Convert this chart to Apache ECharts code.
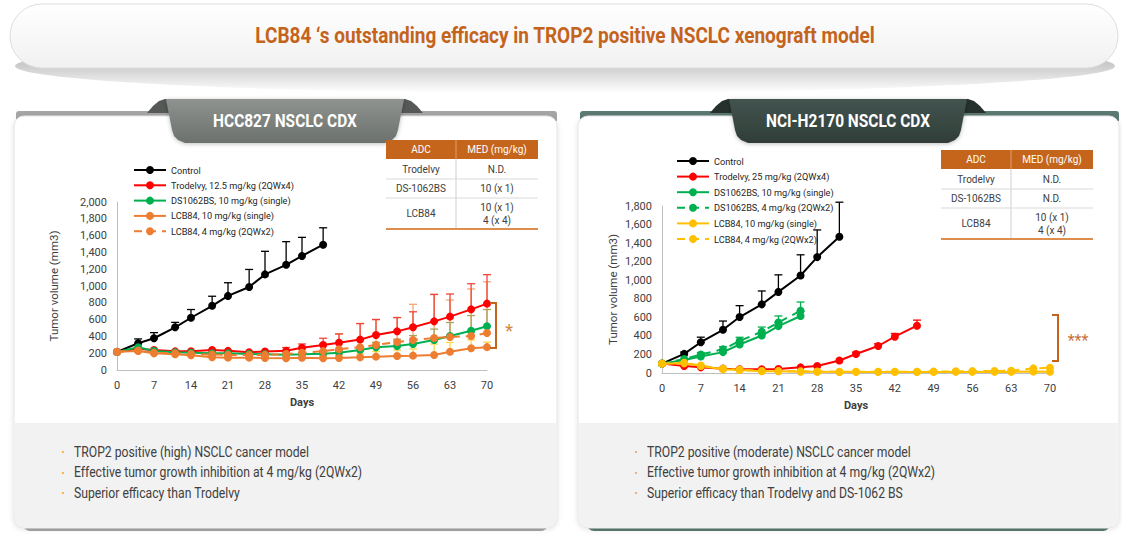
<!DOCTYPE html>
<html><head><meta charset="utf-8">
<script src="https://cdn.jsdelivr.net/npm/echarts@6/dist/echarts.min.js"></script>
<style>html,body{margin:0;padding:0;background:#fff;}#c{width:1122px;height:541px;}</style>
</head><body><div id="c"></div>
<script>
// ---------- DATA ----------
const daysL = [0,4,7,11,14,18,21,25,28,32,35,39,42,46,49,53,56,60,63,67,70];
const ctrlL = [215,319,378,508,622,764,882,988,1138,1252,1358,1492];
const ctrlLErr = [0,51,67,59,98,114,157,209,275,276,221,201];
const trodL = [215,250,238,222,224,238,228,212,220,228,265,298,325,362,417,460,508,579,635,722,790];
const trodLErr = [0,12,12,12,12,12,12,12,15,40,45,80,105,190,185,165,185,320,270,305,345];
const dsL = [215,270,226,210,206,198,198,190,187,183,187,194,206,238,270,286,310,357,405,468,520];
const dsLErr = [0,12,10,10,10,10,10,10,10,12,15,20,25,40,60,80,100,130,160,180,200];
const lcb10L = [218,226,198,187,175,151,147,147,143,139,145,139,143,151,159,167,171,179,218,258,272];
const lcb10LErr = [0,10,10,10,10,10,10,10,10,10,15,20,25,40,60,70,80,130,110,100,60];
const lcb4L = [218,232,205,200,190,185,180,178,180,190,205,225,248,270,298,333,357,381,393,405,440];
const lcb4LErr = [0,15,15,15,15,20,20,25,30,40,45,90,180,285,300,290,425,520,440,560,610];

const daysR = [0,4,7,11,14,18,21,25,28,32,35,39,42,46,49,53,56,60,63,67,70];
const ctrlR = [101,206,332,466,603,740,874,1051,1249,1469];
const ctrlRErr = [0,20,54,94,123,144,184,223,293,372];
const trodR = [101,75,61,47,40,40,43,61,75,135,205,291,391,510];
const trodRErr = [0,5,5,5,5,5,5,8,10,15,20,25,35,60];
const ds10R = [101,140,178,225,307,404,505,614];
const ds10RErr = [0,10,15,20,25,30,40,50];
const ds4R = [101,150,200,255,345,445,545,670];
const ds4RErr = [0,15,20,30,40,50,70,95];
const lcb10R = [101,104,75,40,32,18,18,14,14,11,12,12,12,12,12,12,12,12,12,15,14];
const lcb4R = [101,110,80,45,35,22,20,18,16,14,14,14,14,14,16,18,20,22,25,50,57];
const lcbRErr = [0,5,5,5,5,4,4,4,4,4,4,4,4,4,4,4,5,5,6,8,10];

const yTicksL = {min:0, max:2000, interval:200};
const yTicksR = {min:0, max:1800, interval:200};
const xTicks = {min:0, max:70, interval:7};

const namesL = ['Control','Trodelvy, 12.5 mg/kg (2QWx4)','DS1062BS, 10 mg/kg (single)','LCB84, 10 mg/kg (single)','LCB84, 4 mg/kg (2QWx2)'];
const namesR = ['Control','Trodelvy, 25 mg/kg (2QWx4)','DS1062BS, 10 mg/kg (single)','DS1062BS, 4 mg/kg (2QWx2)','LCB84, 10 mg/kg (single)','LCB84, 4 mg/kg (2QWx2)'];

const tableHead = ['ADC','MED (mg/kg)'];
const tableL = [['Trodelvy','N.D.'],['DS-1062BS','10 (x 1)'],['LCB84','10 (x 1)\n4 (x 4)']];
const tableR = [['Trodelvy','N.D.'],['DS-1062BS','N.D.'],['LCB84','10 (x 1)\n4 (x 4)']];

const title = "LCB84 \u2018s outstanding efficacy in TROP2 positive NSCLC xenograft model";
const tabL = 'HCC827 NSCLC CDX';
const tabR = 'NCI-H2170 NSCLC CDX';
const bulletsL = ['TROP2 positive (high) NSCLC cancer model','Effective tumor growth inhibition at 4 mg/kg (2QWx2)','Superior efficacy than Trodelvy'];
const bulletsR = ['TROP2 positive (moderate) NSCLC cancer model','Effective tumor growth inhibition at 4 mg/kg (2QWx2)','Superior efficacy than Trodelvy and DS-1062 BS'];

// ---------- BUILD ----------
const ROBO = 'Roboto, "Noto Sans", sans-serif';
const pair = (d, v) => v.map((y, i) => [d[i], y]);

function line(name, gi, days, vals, color, dashed) {
  return {name, type:'line', xAxisIndex:gi, yAxisIndex:gi, data:pair(days, vals),
    symbol:'circle', symbolSize:8, showSymbol:true, animation:false, silent:true, z:3,
    itemStyle:{color}, lineStyle:{color, width:2, type: dashed ? [8,6] : 'solid'}};
}
function err(gi, days, vals, errs, color) {
  return {type:'custom', xAxisIndex:gi, yAxisIndex:gi, silent:true, animation:false, z:2,
    data: vals.map((v, i) => [days[i], v, v + errs[i]]),
    renderItem: (p, api) => {
      const a = api.coord([api.value(0), api.value(1)]);
      const b = api.coord([api.value(0), api.value(2)]);
      if (a[1] - b[1] < 1.5) return null;
      return {type:'group', children:[
        {type:'line', shape:{x1:a[0], y1:a[1], x2:b[0], y2:b[1]}, style:{stroke:color, lineWidth:1.3}},
        {type:'line', shape:{x1:b[0]-4, y1:b[1], x2:b[0]+4, y2:b[1]}, style:{stroke:color, lineWidth:1.3}}
      ]};
    }};
}

const cBlack='#000000', cRed='#ff0000', cGreen='#00b050', cOrange='#ed7d31', cYellow='#ffc000';

const series = [
  err(0, daysL, ctrlL, ctrlLErr, cBlack),
  err(0, daysL, lcb4L, lcb4LErr, '#f4a872'),
  err(0, daysL, trodL, trodLErr, '#f0463c'),
  err(0, daysL, dsL, dsLErr, '#a8a460'),
  err(0, daysL, lcb10L, lcb10LErr, '#ffd54a'),
  line('L|'+namesL[0], 0, daysL, ctrlL, cBlack),
  line('L|'+namesL[1], 0, daysL, trodL, cRed),
  line('L|'+namesL[2], 0, daysL, dsL, cGreen),
  line('L|'+namesL[3], 0, daysL, lcb10L, cOrange),
  line('L|'+namesL[4], 0, daysL, lcb4L, cOrange, true),
  err(1, daysR, ctrlR, ctrlRErr, cBlack),
  err(1, daysR, trodR, trodRErr, cRed),
  err(1, daysR, ds10R, ds10RErr, cGreen),
  err(1, daysR, ds4R, ds4RErr, cGreen),
  err(1, daysR, lcb10R, lcbRErr, cYellow),
  line('R|'+namesR[0], 1, daysR, ctrlR, cBlack),
  line('R|'+namesR[1], 1, daysR, trodR, cRed),
  line('R|'+namesR[2], 1, daysR, ds10R, cGreen),
  line('R|'+namesR[3], 1, daysR, ds4R, cGreen, true),
  line('R|'+namesR[4], 1, daysR, lcb10R, cYellow),
  line('R|'+namesR[5], 1, daysR, lcb4R, cYellow, true)
];

function xAx(gi) {
  return {gridIndex:gi, type:'value', ...xTicks,
    axisLine:{lineStyle:{color:'#bfbfbf', width:1}}, axisTick:{show:false}, splitLine:{show:false},
    axisLabel:{color:'#404040', fontSize:11, fontFamily:ROBO, margin:10},
    name:'Days', nameLocation:'middle', nameGap:27,
    nameTextStyle:{color:'#404040', fontSize:11, fontWeight:'bold', fontFamily:ROBO}};
}
function yAx(gi, t, gap) {
  return {gridIndex:gi, type:'value', ...t,
    axisLine:{show:true, lineStyle:{color:'#bfbfbf', width:1}}, axisTick:{show:false}, splitLine:{show:false},
    axisLabel:{color:'#404040', fontSize:11, fontFamily:ROBO, margin:10, formatter:v => v.toLocaleString('en-US')},
    name:'Tumor volume (mm3)', nameLocation:'middle', nameGap:gap, nameRotate:90,
    nameTextStyle:{color:'#404040', fontSize:11.5, fontFamily:ROBO}};
}
function legend(names, prefix, left, top, gap) {
  return {orient:'vertical', left, top, padding:0, itemWidth:32, itemHeight:10, itemGap:gap, selectedMode:false,
    data: names.map(n => prefix + n), formatter: n => n.split('|')[1],
    textStyle:{color:'#262626', fontSize:9.2, fontFamily:ROBO, lineHeight:10, padding:[0,0,0,0]}};
}

// graphics
const G = [];
function txt(x, y, text, font, fill, align, sx, z) {
  G.push({type:'text', x, y, z: z||20, silent:true, scaleX: sx||1, style:{text, font, fill, align:align||'center', textAlign:align||'center', verticalAlign:'middle', textVerticalAlign:'middle', lineHeight:13}});
}
// title pill + shadow
G.push({type:'ellipse', z:-20, silent:true, shape:{cx:565, cy:66, rx:550, ry:27},
  style:{fill:{type:'linear', x:0, y:0, x2:0, y2:1, colorStops:[{offset:0,color:'rgba(0,0,0,0.32)'},{offset:0.5,color:'rgba(0,0,0,0.20)'},{offset:1,color:'rgba(0,0,0,0)'}]}}});
G.push({type:'rect', z:-19, silent:true, shape:{x:10, y:4, width:1108, height:64, r:32},
  style:{fill:{type:'linear', x:0, y:0, x2:0, y2:1, colorStops:[{offset:0,color:'#ffffff'},{offset:1,color:'#f1f1f1'}]}, stroke:'#dedede', lineWidth:1}});
txt(565, 36, title, 'bold 22px '+ROBO, '#c4641c', 'center', 0.865);

function panel(x, w, strip, tabBody1, tabBody2, ear, cx, tabText) {
  G.push({type:'rect', z:-18, silent:true, shape:{x:x+9, y:515, width:w-18, height:16, r:[0,0,7,7]}, style:{fill:strip}});
  G.push({type:'rect', z:-18, silent:true, shape:{x:x+2, y:111, width:w-2, height:10, r:[3,3,0,0]}, style:{fill:strip}});
  G.push({type:'rect', z:-17, silent:true, shape:{x:x, y:116, width:w, height:412, r:10},
    style:{fill:'#ffffff', stroke:'#e4e4e4', lineWidth:1, shadowBlur:5, shadowColor:'rgba(0,0,0,0.12)', shadowOffsetY:1}});
  G.push({type:'rect', z:-16, silent:true, shape:{x:x+0.5, y:423, width:w-1, height:104.5, r:[0,0,10,10]}, style:{fill:'#f2f2f2'}});
  G.push({type:'polygon', z:-15, silent:true, shape:{points:[[cx-138,113],[cx-132,106],[cx-126,101],[cx-120,99],[cx-112,99],[cx-112,113]]}, style:{fill:ear}});
  G.push({type:'polygon', z:-15, silent:true, shape:{points:[[cx+138,113],[cx+132,106],[cx+126,101],[cx+120,99],[cx+112,99],[cx+112,113]]}, style:{fill:ear}});
  G.push({type:'polygon', z:-14, silent:true,
    shape:{points:[[cx-119,99],[cx+119,99],[cx+113,130],[cx+111,136],[cx+107,140],[cx+100,143],[cx-100,143],[cx-107,140],[cx-111,136],[cx-113,130]]},
    style:{fill:{type:'linear', x:0, y:0, x2:0, y2:1, colorStops:[{offset:0,color:tabBody1},{offset:1,color:tabBody2}]}, shadowBlur:4, shadowColor:'rgba(0,0,0,0.25)', shadowOffsetY:1}});
  txt(cx, 121, tabText, 'bold 18px '+ROBO, '#ffffff', 'center', 0.86);
}
panel(14, 543, '#a6a6a6', '#8e9390', '#6c716e', '#555856', 285, tabL);
panel(578, 541, '#5b7a71', '#43544f', '#303d39', '#26302d', 848, tabR);

function table(x0, xm, x1, yh0, yh1, rowBounds, rows, c1, c2) {
  G.push({type:'rect', z:10, silent:true, shape:{x:x0, y:yh0, width:x1-x0, height:yh1-yh0}, style:{fill:'#c5651c'}});
  G.push({type:'line', z:11, silent:true, shape:{x1:xm, y1:yh0, x2:xm, y2:yh1}, style:{stroke:'#dfa06c', lineWidth:1}});
  G.push({type:'line', z:11, silent:true, shape:{x1:xm, y1:yh1, x2:xm, y2:rowBounds[rowBounds.length-1]}, style:{stroke:'#cfcfcf', lineWidth:1}});
  txt(c1, (yh0+yh1)/2, tableHead[0], '10px '+ROBO, '#ffffff');
  txt(c2, (yh0+yh1)/2, tableHead[1], '10px '+ROBO, '#ffffff');
  rows.forEach((r, i) => {
    const ya = rowBounds[i], yb = rowBounds[i+1];
    txt(c1, (ya+yb)/2, r[0], '10px '+ROBO, '#404040');
    txt(c2, (ya+yb)/2, r[1], '10px '+ROBO, '#404040');
    if (i < rows.length-1) G.push({type:'line', z:11, silent:true, shape:{x1:x0, y1:yb, x2:x1, y2:yb}, style:{stroke:'#d9d9d9', lineWidth:1}});
  });
  const yb = rowBounds[rowBounds.length-1];
  G.push({type:'line', z:11, silent:true, shape:{x1:x0, y1:yb, x2:x1, y2:yb}, style:{stroke:'#dd8d4d', lineWidth:2}});
}
table(386, 456, 538, 140, 159, [159,179,198,229], tableL, 421, 497);
table(941, 1011, 1093, 150, 169, [169,189,208,239], tableR, 976, 1052);

// significance brackets
G.push({type:'polyline', z:10, silent:true, shape:{points:[[490,303],[496,303],[496,348],[490,348]]}, style:{stroke:'#c4641c', lineWidth:2, fill:null}});
txt(509, 330, '*', '18px '+ROBO, '#d4893e');
G.push({type:'polyline', z:10, silent:true, shape:{points:[[1052,315],[1058,315],[1058,361],[1052,361]]}, style:{stroke:'#c4641c', lineWidth:2, fill:null}});
txt(1078, 340, '***', '16px '+ROBO, '#c8743e');

// bullets
function bullets(xb, xt, list) {
  list.forEach((t, i) => {
    const y = 452 + i*20.5;
    txt(xb, y, '\u2022', '9px '+ROBO, '#f0a030');
    txt(xt, y, t, '14px '+ROBO, '#404040', 'left', 0.87);
  });
}
bullets(63, 74, bulletsL);
bullets(636, 647, bulletsR);

const option = {
  animation:false,
  backgroundColor:'#ffffff',
  grid:[{left:117, top:202, width:370, height:168}, {left:662, top:206, width:388, height:167}],
  xAxis:[xAx(0), xAx(1)],
  yAxis:[yAx(0, yTicksL, 57), yAx(1, yTicksR, 43)],
  legend:[legend(namesL, 'L|', 133, 165, 5.3), legend(namesR, 'R|', 676, 156, 5.6)],
  graphic:{elements:G},
  series
};
const chart = echarts.init(document.getElementById('c'), null, {renderer:'svg', width:1122, height:541});
chart.setOption(option);
</script></body></html>
